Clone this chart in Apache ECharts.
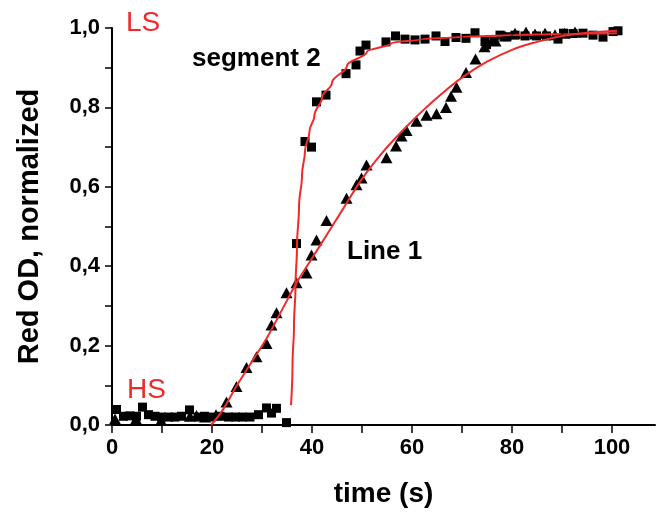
<!DOCTYPE html>
<html>
<head>
<meta charset="utf-8">
<script src="https://cdn.jsdelivr.net/npm/echarts@6/dist/echarts.min.js"></script>
<style>
html,body{margin:0;padding:0;background:#fff;}
#chart{width:658px;height:513px;}
</style>
</head>
<body>
<div id="chart"></div>
<script>
// Segment 2 (squares)
const seg2Time = [0.9,2.3,3.6,4.9,6.1,7.3,8.6,9.9,11.3,12.6,13.9,15.5,17.3,18.5,19.8,21.6,23.3,24.7,26.1,27.6,29.3,30.9,31.9,32.9,34.9,
  36.9,38.6,39.9,40.9,42.8,46.8,48.8,49.6,50.8,54.8,56.7,58.6,60.6,62.6,64.8,66.6,68.8,70.8,72.6,74.6,74.9,76.4,77.6,79.0,80.6,82.6,84.9,86.9,89.2,90.3,92.2,94.2,96.2,98.2,100.2,101.2];
const seg2OD = [0.039,0.022,0.023,0.022,0.045,0.026,0.022,0.020,0.020,0.020,0.022,0.038,0.020,0.022,0.020,0.022,0.020,0.020,0.020,0.020,0.026,0.043,0.030,0.042,0.006,
  0.457,0.714,0.700,0.814,0.831,0.885,0.907,0.942,0.957,0.965,0.980,0.972,0.970,0.972,0.980,0.966,0.976,0.974,0.988,0.966,0.958,0.970,0.982,0.978,0.982,0.980,0.980,0.980,0.972,0.987,0.986,0.987,0.982,0.977,0.991,0.993];

// Line 1 (triangles)
const line1Time = [0.6,4.8,9.8,15.6,16.9,18.6,20.8,22.9,24.9,26.9,28.9,30.9,31.9,32.9,34.9,36.9,38.9,39.9,40.9,42.9,46.9,48.9,49.9,50.9,54.9,56.8,57.9,58.9,60.9,62.9,64.9,66.8,67.8,68.9,70.8,72.7,74.5,76.7,78.6,80.6,82.8,84.6,86.6,88.6,90.5,92.6];
const line1OD = [0.015,0.015,0.012,0.022,0.024,0.020,0.026,0.058,0.097,0.145,0.172,0.205,0.252,0.283,0.333,0.358,0.383,0.428,0.466,0.515,0.571,0.605,0.622,0.655,0.673,0.703,0.728,0.742,0.765,0.780,0.784,0.800,0.828,0.851,0.888,0.922,0.953,0.967,0.980,0.987,0.990,0.985,0.987,0.983,0.987,0.990];

// Fit curves
const fit1Time = [19.8,22,25,28,31,34,37,40,43,46,50,54,58,62,66,70,75,80,85,90,95,101];
const fit1OD   = [0.0,0.035,0.10,0.16,0.22,0.29,0.36,0.42,0.48,0.54,0.62,0.685,0.74,0.79,0.835,0.875,0.915,0.945,0.965,0.98,0.988,0.993];
const fit2Time = [35.8,36.1,36.4,36.7,37.0,37.4,38.0,38.6,39.5,40.5,42,44,47,51,56,62,70,80,90,101];
const fit2OD   = [0.05,0.15,0.25,0.35,0.45,0.55,0.63,0.69,0.74,0.78,0.825,0.862,0.905,0.94,0.962,0.972,0.978,0.982,0.985,0.987];

const xTicks = [0,10,20,30,40,50,60,70,80,90,100];
const xLabels = [0,20,40,60,80,100];
const yLabels = [0,0.2,0.4,0.6,0.8,1.0];

const zip = (a,b) => a.map((v,i)=>[v,b[i]]);
const FONT = '"Liberation Sans", Arial, sans-serif';
const RED = '#f02a2a';

const chart = echarts.init(document.getElementById('chart'));
chart.setOption({
  animation: false,
  backgroundColor: '#fff',
  grid: {left: 112, right: 3, top: 28, bottom: 85, containLabel: false},
  xAxis: {
    type: 'value', min: 0, max: 108.6, interval: 10,
    name: 'time (s)', nameLocation: 'middle', nameGap: 55,
    nameTextStyle: {fontFamily: FONT, fontWeight: 'bold', fontSize: 28, color: '#000'},
    axisLine: {lineStyle: {color: '#000', width: 2}},
    axisTick: {length: 8, lineStyle: {color: '#000', width: 1.5}, customValues: xTicks},
    axisLabel: {customValues: xLabels, margin: 12, fontFamily: FONT, fontWeight: 'bold', fontSize: 22, color: '#000'},
    splitLine: {show: false}
  },
  yAxis: {
    type: 'value', min: 0, max: 1, interval: 0.1,
    name: 'Red OD, normalized', nameLocation: 'middle', nameGap: 68,
    nameTextStyle: {fontFamily: FONT, fontWeight: 'bold', fontSize: 29, color: '#000'},
    axisLine: {lineStyle: {color: '#000', width: 2}},
    axisTick: {length: 7, lineStyle: {color: '#000', width: 1.5}},
    axisLabel: {customValues: yLabels, margin: 12, fontFamily: FONT, fontWeight: 'bold', fontSize: 22, color: '#000',
      formatter: v => v.toFixed(1).replace('.', ',')},
    splitLine: {show: false}
  },
  series: [
    {type: 'scatter', name: 'segment 2', data: zip(seg2Time, seg2OD), symbol: 'rect', symbolSize: 9,
     itemStyle: {color: '#000', opacity: 1}},
    {type: 'scatter', name: 'Line 1', data: zip(line1Time, line1OD), symbol: 'triangle', symbolSize: [12, 11],
     itemStyle: {color: '#000', opacity: 1}},
    {type: 'line', data: zip(fit1Time, fit1OD), smooth: 0.4, showSymbol: false, symbol: 'none',
     lineStyle: {color: RED, width: 2}, z: 5},
    {type: 'line', data: zip(fit2Time, fit2OD), smooth: 0.4, smoothMonotone: 'y', showSymbol: false, symbol: 'none',
     lineStyle: {color: RED, width: 2}, z: 5}
  ],
  graphic: [
    {type: 'text', left: 126, top: 9, style: {text: 'LS', fill: RED, font: '28px ' + FONT}},
    {type: 'text', left: 127, top: 376, style: {text: 'HS', fill: RED, font: '28px ' + FONT}},
    {type: 'text', left: 192, top: 46, style: {text: 'segment 2', fill: '#000', font: 'bold 26px ' + FONT}},
    {type: 'text', left: 347, top: 239, style: {text: 'Line 1', fill: '#000', font: 'bold 26px ' + FONT}}
  ]
});
</script>
</body>
</html>
